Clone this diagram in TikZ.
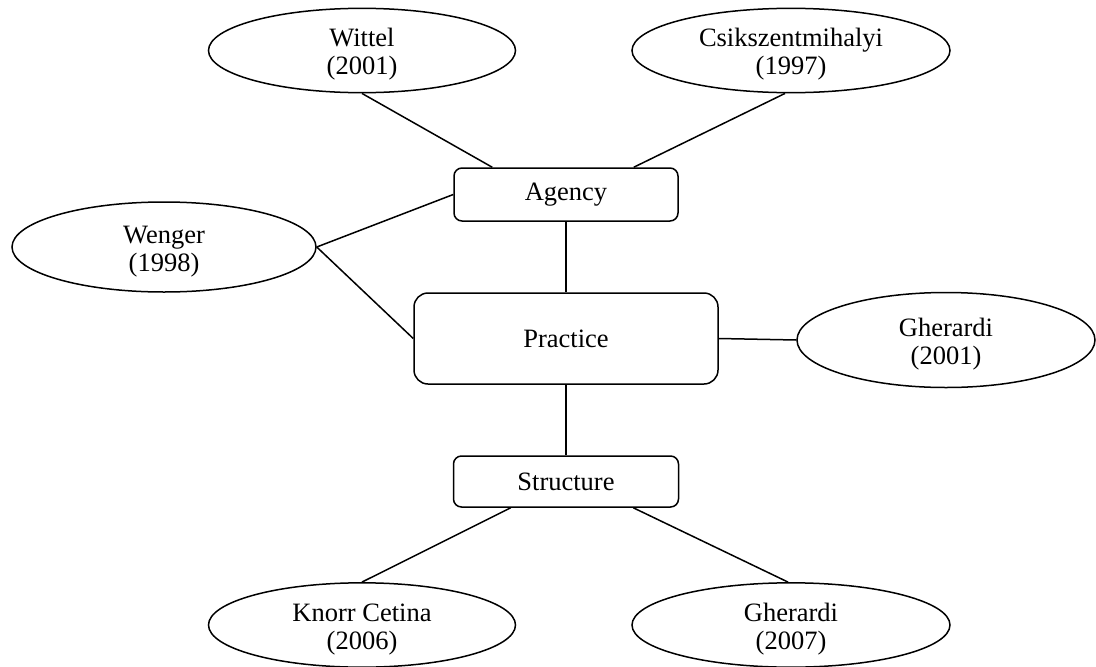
\documentclass[tikz,border=0pt]{standalone}
\usepackage{fontspec}
\setmainfont{Liberation Serif}
\usetikzlibrary{shapes.geometric}
\newcommand\ltop{\rule{0pt}{26pt}}
\begin{document}
\begin{tikzpicture}[x=1pt,y=-1pt,
  every node/.style={font=\fontsize{26.5}{28}\selectfont},
  ell/.style={draw, ellipse, line width=1.5pt, inner sep=0pt, align=center, fill=white},
  box/.style={draw, line width=1.5pt, inner sep=0pt, align=center, fill=white},
  conn/.style={line width=1.5pt}]
\useasboundingbox (0,0) rectangle (1096,667);
% ellipses
\node[ell, minimum width=307pt, minimum height=78pt] (wi) at (362,50.5) {\ltop Wittel\\(2001)};
\node[ell, minimum width=318pt, minimum height=78pt] (cs) at (791,50.5) {\ltop Csikszentmihalyi\\(1997)};
\node[ell, minimum width=304pt, minimum height=90pt] (we) at (164,247) {\ltop Wenger\\(1998)};
\node[ell, minimum width=298pt, minimum height=95pt] (g1) at (946,340) {\ltop Gherardi\\(2001)};
\node[ell, minimum width=307pt, minimum height=80pt] (kc) at (362,625) {\ltop Knorr Cetina\\(2006)};
\node[ell, minimum width=318pt, minimum height=80pt] (g7) at (791,625) {\ltop Gherardi\\(2007)};
% boxes
\node[box, rounded corners=8pt, minimum width=224pt, minimum height=53pt] (ag) at (566,194.5) {Agency};
\node[box, rounded corners=14pt, minimum width=304pt, minimum height=91pt] (pr) at (566,338.5) {Practice};
\node[box, rounded corners=8pt, minimum width=225pt, minimum height=51pt] (st) at (566,481.5) {Structure};
% connectors
\draw[conn] (wi.south) -- ([xshift=39pt]ag.north west);
\draw[conn] ([xshift=-6pt]cs.south) -- ([xshift=-45pt]ag.north east);
\draw[conn] (we.east) -- (ag.west);
\draw[conn] (we.east) -- (pr.west);
\draw[conn] (pr.east) -- (g1.west);
\draw[conn] (ag.south) -- (pr.north);
\draw[conn] (pr.south) -- (st.north);
\draw[conn] ([xshift=58pt]st.south west) -- (kc.north);
\draw[conn] ([xshift=-46pt]st.south east) -- ([xshift=-3pt]g7.north);
\end{tikzpicture}
\end{document}
